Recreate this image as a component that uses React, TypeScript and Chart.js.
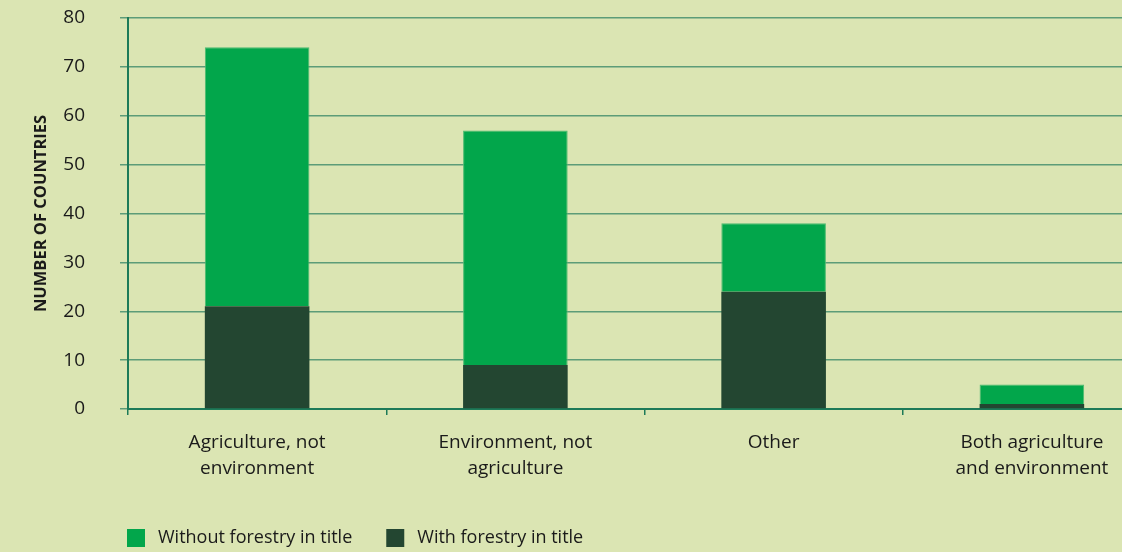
import React, { useEffect, useRef } from "react";
import { Chart, registerables } from "chart.js";

Chart.register(...registerables);

const categories: string[][] = [
  ["Agriculture, not", "environment"],
  ["Environment, not", "agriculture"],
  ["Other"],
  ["Both agriculture", "and environment"],
];
const withForestry = [21, 9, 24, 1];
const withoutForestry = [53, 48, 14, 4];
const seriesLabels = ["Without forestry in title", "With forestry in title"];
const yAxisTitle = "NUMBER OF COUNTRIES";
const yMin = 0;
const yMax = 80;
const yStep = 10;

const BG = "#dbe5b3";
const BRIGHT = "#02a64b";
const DARK = "#234631";
const GRID = "#5c9c78";
const AXIS = "#1d7a58";
const TEXT = "#1a1a1a";
const FONT = "'Open Sans', Lato, sans-serif";

export default function App() {
  const ref = useRef<HTMLCanvasElement | null>(null);

  useEffect(() => {
    document.body.style.margin = "0";
    const canvas = ref.current!;
    const bgPlugin = {
      id: "bg",
      beforeDraw(chart: any) {
        const c = chart.ctx;
        c.save();
        c.fillStyle = BG;
        c.fillRect(0, 0, chart.width, chart.height);
        c.restore();
      },
    };
    const legendPlugin = {
      id: "customLegend",
      afterDraw(chart: any) {
        const c = chart.ctx;
        c.save();
        c.font = `18px ${FONT}`;
        c.textBaseline = "middle";
        c.textAlign = "left";
        const items = [
          { label: seriesLabels[0], color: chart.data.datasets[1].backgroundColor },
          { label: seriesLabels[1], color: chart.data.datasets[0].backgroundColor },
        ];
        let x = 127;
        const y = 529;
        const box = 18;
        items.forEach((it) => {
          c.fillStyle = it.color;
          c.fillRect(x, y, box, box);
          c.fillStyle = TEXT;
          c.fillText(it.label, x + box + 13, y + box / 2);
          x = x + box + 13 + c.measureText(it.label).width + 34;
        });
        c.restore();
      },
    };

    const chart = new Chart(canvas, {
      type: "bar",
      data: {
        labels: categories,
        datasets: [
          {
            label: seriesLabels[1],
            data: withForestry,
            backgroundColor: DARK,
            borderWidth: 0,
            categoryPercentage: 1,
            barPercentage: 0.405,
          },
          {
            label: seriesLabels[0],
            data: withoutForestry,
            backgroundColor: BRIGHT,
            borderColor: "#4dbb70",
            borderWidth: 1,
            categoryPercentage: 1,
            barPercentage: 0.405,
          },
        ],
      },
      options: {
        responsive: false,
        animation: false,
        devicePixelRatio: 1,
        layout: { padding: { top: 18, left: 0, right: 0, bottom: 0 } },
        plugins: {
          legend: { display: false },
          tooltip: { enabled: false },
        },
        scales: {
          x: {
            stacked: true,
            grid: {
              drawOnChartArea: false,
              drawTicks: true,
              tickLength: 6,
              color: AXIS,
              lineWidth: 1.5,
              offset: true,
            },
            border: { color: AXIS, width: 2 },
            ticks: {
              color: TEXT,
              font: { family: FONT, size: 19, lineHeight: 1.38 },
              padding: 14,
              maxRotation: 0,
              autoSkip: false,
            },
            afterFit(scale: any) {
              scale.height = 552 - 409;
              scale.paddingLeft = 0;
              scale.paddingRight = 0;
            },
          },
          y: {
            stacked: true,
            min: yMin,
            max: yMax,
            grid: {
              color: GRID,
              lineWidth: 1.5,
              tickLength: 8,
              drawTicks: true,
            },
            border: { color: AXIS, width: 2 },
            ticks: {
              stepSize: yStep,
              color: TEXT,
              font: { family: FONT, size: 19 },
              padding: 35,
            },
            title: {
              display: true,
              text: yAxisTitle,
              color: TEXT,
              font: { family: FONT, size: 16.5, weight: "bold" },
              padding: { top: 31, bottom: 0 },
            },
            afterFit(scale: any) {
              scale.width = 128;
              scale.paddingTop = 0;
              scale.paddingBottom = 0;
            },
          },
        },
      },
      plugins: [bgPlugin, legendPlugin],
    } as any);
    return () => chart.destroy();
  }, []);

  return (
    <div
      style={{
        position: "fixed",
        left: 0,
        top: 0,
        width: 1122,
        height: 552,
        overflow: "hidden",
        background: BG,
      }}
    >
      <canvas ref={ref} width={1161} height={552} style={{ display: "block", width: 1161, height: 552 }} />
    </div>
  );
}
